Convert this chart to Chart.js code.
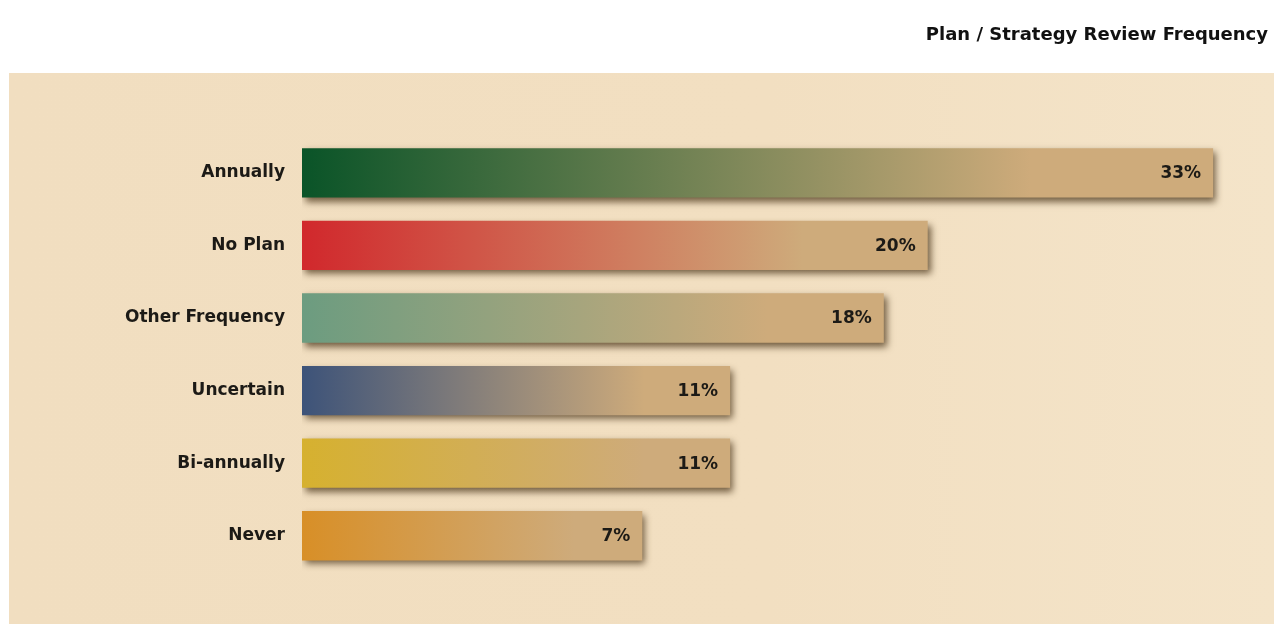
<!DOCTYPE html>
<html>
<head>
<meta charset="utf-8">
<script src="https://cdn.jsdelivr.net/npm/chart.js@4"></script>
<style>
  html, body { margin: 0; padding: 0; background: #fff; }
  #wrap { position: relative; width: 1274px; height: 624px; overflow: hidden; }
  #panel {
    position: absolute; left: 9px; top: 73px; right: 0; bottom: 0;
    background: linear-gradient(90deg, #f1dec0 0%, #f2dfc1 60%, #f4e4c9 100%);
  }
  #chart { position: absolute; left: 0; top: 0; }
</style>
</head>
<body>
<div id="wrap">
  <div id="panel"></div>
  <canvas id="chart" width="1274" height="624"></canvas>
</div>
<script>
// data
const categories = ["Annually", "No Plan", "Other Frequency", "Uncertain", "Bi-annually", "Never"];
const percents = [33, 20, 18, 11, 11, 7];
// left colour of each bar's gradient
const startColors = ["#0a5428", "#d1282c", "#6c9c80", "#3d5379", "#d6b12f", "#d88f27"];
const tanColor = "#ceab7b";
// the bars in the reference do not start at zero; axis floor
const axisFloor = -8.5;
const axisCeil = 35.5;

const FONT = "'DejaVu Sans', sans-serif";

function barGradient(ctx) {
  const chart = ctx.chart;
  const area = chart.chartArea;
  if (!area) return startColors[ctx.dataIndex];
  const x = chart.scales.x;
  const x0 = x.getPixelForValue(axisFloor);
  const x1 = x.getPixelForValue(percents[ctx.dataIndex]);
  const g = chart.ctx.createLinearGradient(x0, 0, x1, 0);
  g.addColorStop(0, startColors[ctx.dataIndex]);
  g.addColorStop(0.8, tanColor);
  g.addColorStop(1, tanColor);
  return g;
}

// soft drop shadow under bars
const shadowPlugin = {
  id: "barShadow",
  beforeDatasetsDraw(chart) {
    const c = chart.ctx;
    c.save();
    c.shadowColor = "rgba(60, 38, 10, 0.7)";
    c.shadowBlur = 7;
    c.shadowOffsetX = 3;
    c.shadowOffsetY = 4;
  },
  afterDatasetsDraw(chart) {
    chart.ctx.restore();
  }
};

// percent text inside the bar end
const valueLabels = {
  id: "valueLabels",
  afterDatasetsDraw(chart) {
    const c = chart.ctx;
    const meta = chart.getDatasetMeta(0);
    c.save();
    c.font = "bold 17px " + FONT;
    c.fillStyle = "#1c1a16";
    c.textAlign = "right";
    c.textBaseline = "middle";
    meta.data.forEach((bar, i) => {
      c.fillText(percents[i] + "%", bar.x - 12, bar.y + 1);
    });
    c.restore();
  }
};

new Chart(document.getElementById("chart"), {
  type: "bar",
  data: {
    labels: categories,
    datasets: [{
      data: percents,
      base: axisFloor,
      backgroundColor: barGradient,
      borderWidth: 0,
      categoryPercentage: 1,
      barPercentage: 0.68
    }]
  },
  options: {
    indexAxis: "y",
    responsive: false,
    animation: false,
    events: [],
    layout: { padding: { left: 0, right: 6, top: 0, bottom: 52 } },
    scales: {
      x: {
        display: false,
        min: axisFloor,
        max: axisCeil
      },
      y: {
        grid: { display: false, drawTicks: false },
        border: { display: false },
        ticks: {
          padding: 17,
          color: "#1c1a16",
          font: { family: FONT, size: 17, weight: "bold" }
        },
        afterFit(axis) { axis.width = 302; }
      }
    },
    plugins: {
      legend: { display: false },
      tooltip: { enabled: false },
      title: {
        display: true,
        text: "Plan / Strategy Review Frequency",
        align: "end",
        color: "#111",
        font: { family: FONT, size: 18, weight: "bold", lineHeight: 1.2 },
        padding: { top: 25, bottom: 90 }
      }
    }
  },
  plugins: [shadowPlugin, valueLabels]
});
</script>
</body>
</html>
